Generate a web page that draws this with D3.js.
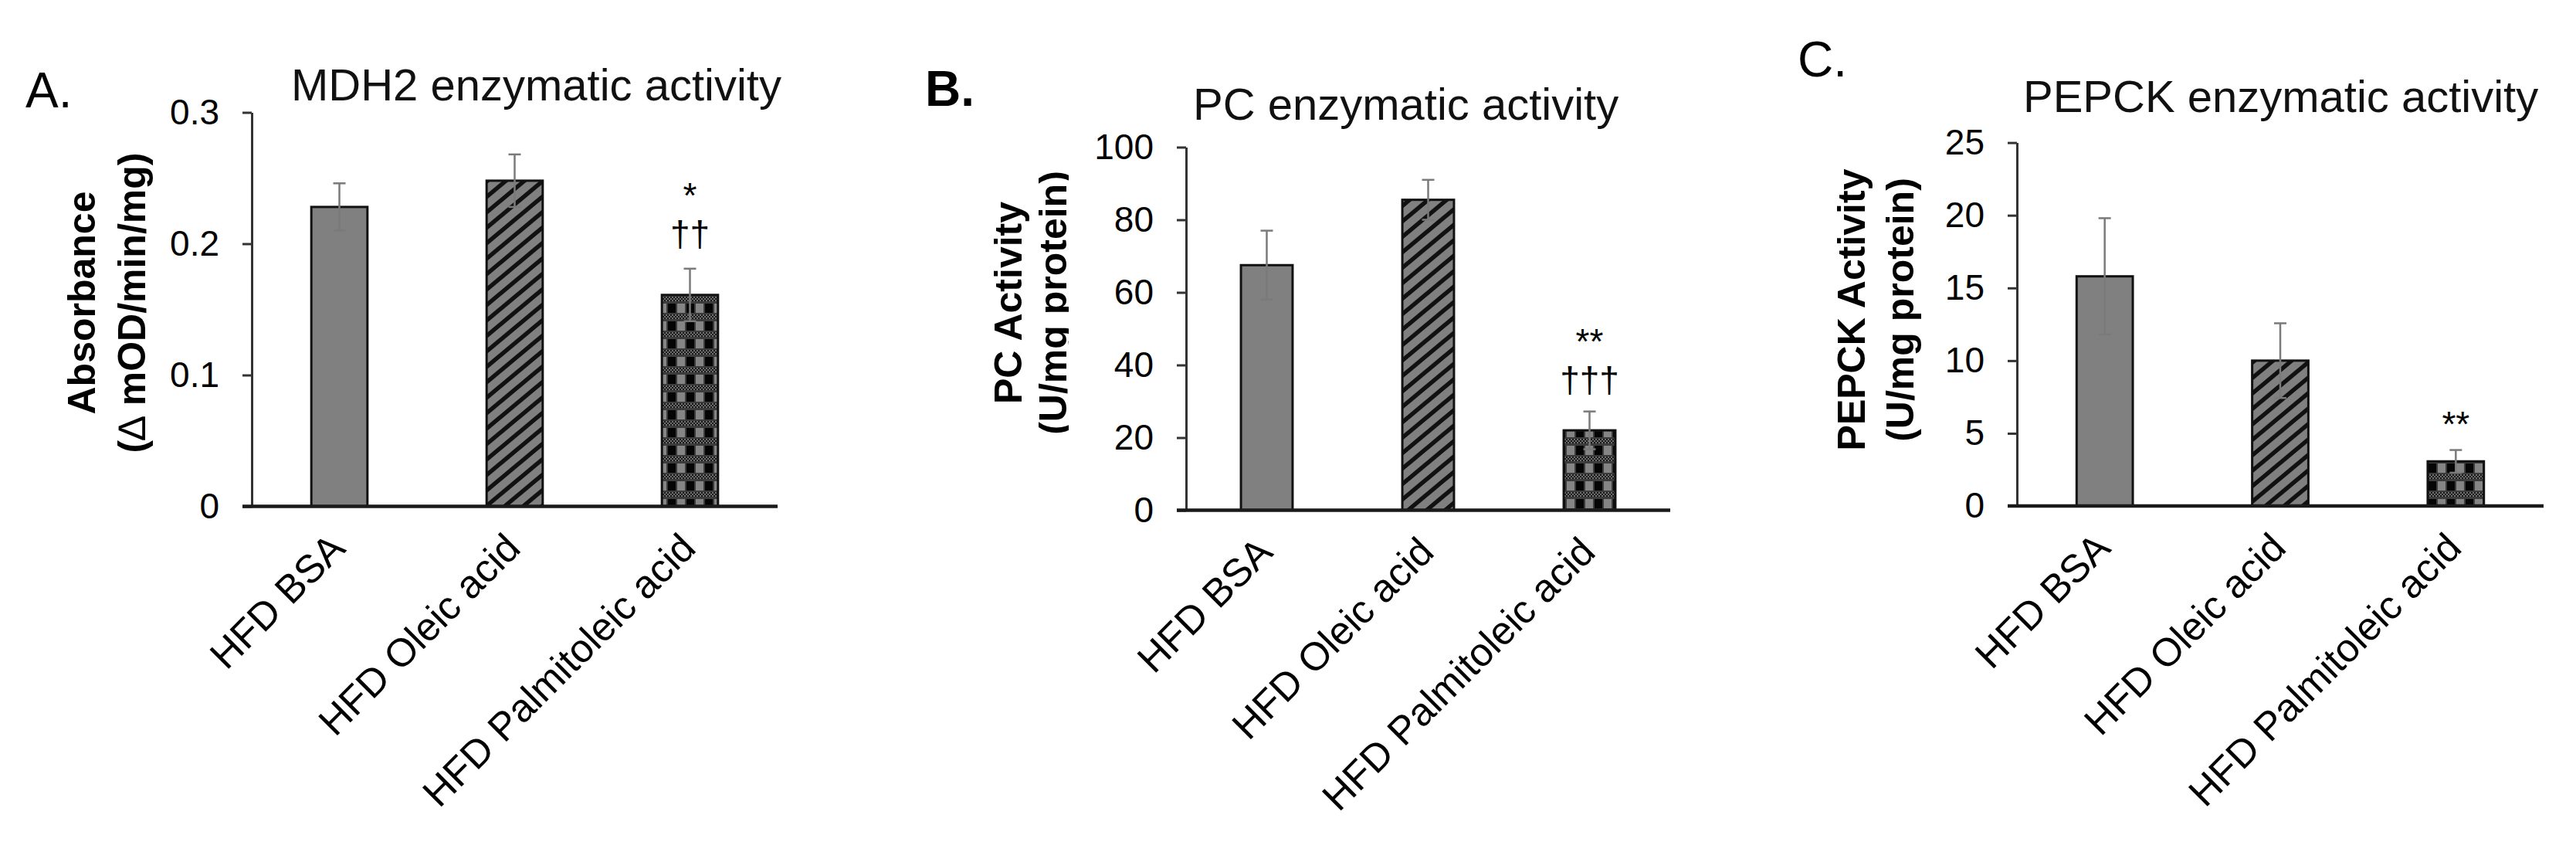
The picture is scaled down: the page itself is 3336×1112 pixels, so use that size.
<!DOCTYPE html>
<html><head><meta charset="utf-8">
<script src="https://cdn.jsdelivr.net/npm/d3@7"></script>
<style>html,body{margin:0;padding:0;background:#fff}svg{display:block}</style>
</head><body>
<svg id="c" width="3336" height="1112"></svg>
<script>
// ---------- data ----------
const categories = ["HFD BSA", "HFD Oleic acid", "HFD Palmitoleic acid"];

const mdh2Means  = [0.228, 0.248, 0.161];
const mdh2Errors = [0.018, 0.020, 0.020];
const mdh2Ticks  = [0, 0.1, 0.2, 0.3];
const mdh2Marks  = [[], [], ["*", "††"]];

const pcMeans  = [67.5, 85.5, 22.0];
const pcErrors = [9.5, 5.5, 5.2];
const pcTicks  = [0, 20, 40, 60, 80, 100];
const pcMarks  = [[], [], ["**", "†††"]];

const pepckMeans  = [15.8, 10.0, 3.07];
const pepckErrors = [4.0, 2.57, 0.78];
const pepckTicks  = [0, 5, 10, 15, 20, 25];
const pepckMarks  = [[], [], ["**"]];

const titles = ["MDH2 enzymatic activity", "PC enzymatic activity", "PEPCK enzymatic activity"];
const panelLetters = ["A.", "B.", "C."];
const yTitles = [["Absorbance", "(\u2206 mOD/min/mg)"], ["PC Activity", "(U/mg protein)"], ["PEPCK Activity", "(U/mg protein)"]];

// ---------- layout ----------
const FONT = "'Liberation Sans', Arial, Helvetica, sans-serif";
const layout = [
  {x0: 326, x1: 1007, y0: 655.5, yTop: 145.5, letter: [33, 139, "normal"], title: [377, 130],
   yt: [123, 188], ytc: 392, annGap: 29, clip: null},
  {x0: 1536, x1: 2163, y0: 660.5, yTop: 190.5, letter: [1198, 137, "bold"], title: [1545, 155],
   yt: [1323, 1381], ytc: 392, annGap: 25, clip: 1384},
  {x0: 2612, x1: 3294, y0: 655, yTop: 184.6, letter: [2328, 99, "normal"], title: [2620, 145],
   yt: [2415, 2478], ytc: 401, annGap: 18, clip: null}
];
const panels = [
  {means: mdh2Means, errors: mdh2Errors, ticks: mdh2Ticks, marks: mdh2Marks},
  {means: pcMeans, errors: pcErrors, ticks: pcTicks, marks: pcMarks},
  {means: pepckMeans, errors: pepckErrors, ticks: pepckTicks, marks: pepckMarks}
];

const svg = d3.select("#c");
svg.append("rect").attr("width", 3336).attr("height", 1112).attr("fill", "#fff");
const defs = svg.append("defs");

// hatch pattern (diagonal stripes)
const hatch = defs.append("pattern").attr("id", "hatch").attr("patternUnits", "userSpaceOnUse")
  .attr("width", 24).attr("height", 20);
hatch.append("rect").attr("width", 24).attr("height", 20).attr("fill", "#808080");
hatch.append("path").attr("d", "M-24,40 L48,-20 M-24,20 L24,-20 M0,40 L48,0")
  .attr("stroke", "#111").attr("stroke-width", 5.5).attr("fill", "none");

// fine checker used inside grid pattern
const fine = defs.append("pattern").attr("id", "fine").attr("patternUnits", "userSpaceOnUse")
  .attr("width", 4).attr("height", 4);
fine.append("rect").attr("width", 4).attr("height", 4).attr("fill", "#6e6e6e");
fine.append("rect").attr("width", 2).attr("height", 2).attr("fill", "#1a1a1a");
fine.append("rect").attr("x", 2).attr("y", 2).attr("width", 2).attr("height", 2).attr("fill", "#1a1a1a");

// grid pattern (black/grey squares with checker bands)
const grid = defs.append("pattern").attr("id", "grid").attr("patternUnits", "userSpaceOnUse")
  .attr("width", 24).attr("height", 23);
grid.append("rect").attr("width", 24).attr("height", 23).attr("fill", "#3c3c3c");
grid.append("rect").attr("x", 1).attr("y", 2).attr("width", 10).attr("height", 12).attr("fill", "#050505");
grid.append("rect").attr("x", 13).attr("y", 2).attr("width", 10).attr("height", 12).attr("fill", "#858585");
grid.append("rect").attr("x", 0).attr("y", 16).attr("width", 24).attr("height", 6).attr("fill", "url(#fine)");

const fills = ["#808080", "url(#hatch)", "url(#grid)"];

panels.forEach((p, i) => {
  const L = layout[i];
  const g = svg.append("g");

  const x = d3.scaleBand().domain(categories).range([L.x0, L.x1])
    .paddingInner(0.68).paddingOuter(0.34);
  const y = d3.scaleLinear().domain([0, d3.max(p.ticks)]).range([L.y0, L.yTop]);

  // panel letter
  g.append("text").attr("x", L.letter[0]).attr("y", L.letter[1])
    .attr("font-family", FONT).attr("font-size", 64).attr("font-weight", L.letter[2])
    .attr("fill", "#000").text(panelLetters[i]);

  // title
  g.append("text").attr("x", L.title[0]).attr("y", L.title[1])
    .attr("font-family", FONT).attr("font-size", 58).attr("fill", "#111").text(titles[i]);

  // y axis title (two lines)
  yTitles[i].forEach((line, k) => {
    const holder = g.append("g");
    if (k === 1 && L.clip) {
      const cid = "clip" + i;
      defs.append("clipPath").attr("id", cid).attr("clipPathUnits", "userSpaceOnUse")
        .append("rect").attr("x", 0).attr("y", 0).attr("width", L.clip).attr("height", 1112);
      holder.attr("clip-path", `url(#${cid})`);
    }
    const t = holder.append("text")
      .attr("transform", `translate(${L.yt[k]},${L.ytc}) rotate(-90)`)
      .attr("text-anchor", "middle").attr("font-family", FONT)
      .attr("font-size", 50).attr("font-weight", "bold").attr("fill", "#000");
    line.split(/(\u2206)/).filter(s => s.length).forEach(part => {
      t.append("tspan").attr("font-weight", part === "\u2206" ? "normal" : "bold").text(part);
    });
  });

  // y axis
  const ya = g.append("g").attr("transform", `translate(${L.x0},0)`)
    .call(d3.axisLeft(y).tickValues(p.ticks).tickSize(12).tickSizeOuter(0).tickPadding(30)
      .tickFormat(d => String(d)));
  ya.select(".domain").attr("stroke", "#333").attr("stroke-width", 3);
  ya.selectAll(".tick line").attr("stroke", "#333").attr("stroke-width", 3);
  ya.selectAll(".tick text").attr("font-family", FONT).attr("font-size", 46).attr("fill", "#000");

  // bars
  g.selectAll("rect.bar").data(p.means).join("rect").attr("class", "bar")
    .attr("x", (d, j) => x(categories[j])).attr("width", x.bandwidth())
    .attr("y", d => y(d)).attr("height", d => y(0) - y(d))
    .attr("fill", (d, j) => fills[j]).attr("stroke", "#111").attr("stroke-width", 3);

  // error bars
  const cap = 8;
  p.means.forEach((m, j) => {
    const cx = x(categories[j]) + x.bandwidth() / 2;
    const e = p.errors[j];
    const eg = g.append("g").attr("stroke", "#7a7a7a").attr("stroke-width", 2.5);
    eg.append("line").attr("x1", cx).attr("x2", cx).attr("y1", y(m - e)).attr("y2", y(m + e));
    eg.append("line").attr("x1", cx - cap).attr("x2", cx + cap).attr("y1", y(m + e)).attr("y2", y(m + e));
    eg.append("line").attr("x1", cx - cap).attr("x2", cx + cap).attr("y1", y(m - e)).attr("y2", y(m - e));

    // significance marks
    const lines = p.marks[j];
    const base = y(m + e) - L.annGap;
    lines.forEach((s, k) => {
      g.append("text").attr("x", cx).attr("y", base - (lines.length - 1 - k) * 50)
        .attr("text-anchor", "middle").attr("font-family", FONT).attr("font-size", 46)
        .attr("fill", "#000").text(s);
    });
  });

  // x axis with rotated category labels
  const xa = g.append("g").attr("transform", `translate(0,${L.y0})`)
    .call(d3.axisBottom(x).tickSize(0));
  xa.select(".domain").remove();
  xa.selectAll(".tick text").attr("x", 0).attr("y", 0).attr("dy", 0)
    .attr("transform", "translate(10,57) rotate(-45)").attr("text-anchor", "end")
    .attr("font-family", FONT).attr("font-size", 51).attr("fill", "#000");
  g.append("line").attr("x1", L.x0 - 12).attr("x2", L.x1).attr("y1", L.y0).attr("y2", L.y0)
    .attr("stroke", "#1a1a1a").attr("stroke-width", 4.5);
});
</script>
</body></html>
